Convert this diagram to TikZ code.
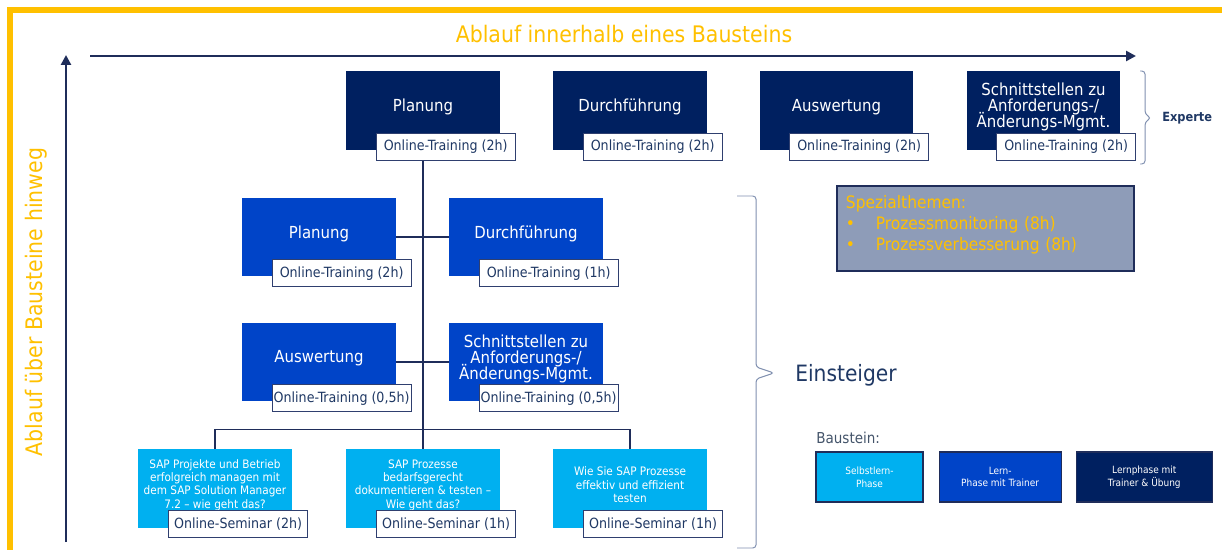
\documentclass[tikz,border=0pt]{standalone}
\usepackage{fontspec}
\setmainfont{DejaVu Sans Condensed}
\usetikzlibrary{arrows.meta,positioning}

\definecolor{navy}{HTML}{002060}
\definecolor{blau}{HTML}{0044C8}
\definecolor{hellblau}{HTML}{00B0F0}
\definecolor{gelb}{HTML}{FFC000}
\definecolor{linie}{HTML}{1F2D5A}
\definecolor{rahmen}{HTML}{2F3F6F}
\definecolor{schrift}{HTML}{1F3864}
\definecolor{grau}{HTML}{8E9CB8}
\definecolor{grautext}{HTML}{44546A}
\definecolor{klammerfarbe}{HTML}{7F8FAF}

% Text im Baustein etwas nach oben, Zeilen mit festem Abstand
\newcommand{\btxt}[1]{\raisebox{2.5pt}[\height][\depth]{\vbox{\let\\\cr
  \lineskiplimit=-\maxdimen\halign{\hfil##\hfil\cr#1\crcr}}}}

\tikzset{
  baustein/.style={rectangle, minimum width=3.825cm, minimum height=1.95cm,
    inner sep=0pt, text=white, font=\fontsize{11.8}{11.4}\selectfont},
  experte/.style={baustein, fill=navy},
  einst/.style={baustein, fill=blau},
  seminar/.style={baustein, fill=hellblau, minimum width=3.85cm,
    minimum height=1.975cm, font=\fontsize{8.3}{9.5}\selectfont},
  etikett/.style={rectangle, draw=rahmen, line width=0.9pt, fill=white,
    text=schrift, minimum width=3.475cm, minimum height=0.675cm,
    inner sep=0pt, font=\fontsize{10}{10}\selectfont, anchor=south east},
  verbinder/.style={draw=linie, line width=1.1pt},
  achse/.style={draw=linie, line width=2pt,
    -{Triangle[length=0.25cm,width=0.25cm]}},
  klammer/.style={draw=klammerfarbe, line width=0.7pt, rounded corners=0.08cm},
  legende/.style={rectangle, draw=linie, line width=0.8pt, minimum height=1.25cm,
    inner sep=0pt, text=white, align=center, font=\fontsize{7.1}{9}\selectfont},
  spezial/.style={rectangle, fill=grau, draw=linie, line width=1.1pt,
    minimum width=7.425cm, minimum height=2.125cm, text width=6.975cm,
    inner xsep=0.225cm, align=left, text=gelb, font=\fontsize{12.2}{15}\selectfont},
}

\begin{document}
\begin{tikzpicture}[x=0.025cm, y=-0.025cm]
  \useasboundingbox (0,0) rectangle (1222,550);
  % Rahmen
  \draw[gelb, line width=3.6pt] (1240,10) -- (10,10) -- (10,570);

  % Achsen
  \node[font=\fontsize{16.2}{18}\selectfont, text=gelb] (titel) at (624,34)
    {Ablauf innerhalb eines Bausteins};
  \node[font=\fontsize{16.2}{18}\selectfont, text=gelb, rotate=90] (vtitel) at (36,302)
    {Ablauf über Bausteine hinweg};
  \coordinate (x0) at (90,56);
  \coordinate (x1) at (1136,56);
  \coordinate (y0) at (66,542);
  \coordinate (y1) at (66,55);
  \draw[achse] (x0) -- (x1);
  \draw[achse] (y0) -- (y1);

  % Experte
  \node[experte] (p1) at (423,110.5) {\btxt{Planung}};
  \node[experte] (d1) at (630,110.5) {\btxt{Durchführung}};
  \node[experte] (a1) at (836.5,110.5) {\btxt{Auswertung}};
  \node[experte] (s1) at (1043.5,110.5)
    {\btxt{Schnittstellen zu\\Anforderungs-/\\Änderungs-Mgmt.}};
  \node[etikett] (p1l) at ([shift={(16,11)}]p1.south east) {Online-Training (2h)};
  \node[etikett] (d1l) at ([shift={(16,11)}]d1.south east) {Online-Training (2h)};
  \node[etikett] (a1l) at ([shift={(16,11)}]a1.south east) {Online-Training (2h)};
  \node[etikett] (s1l) at ([shift={(16,11)}]s1.south east) {Online-Training (2h)};

  % Einsteiger
  \node[einst] (p2) at (319,237) {\btxt{Planung}};
  \node[einst] (d2) at (526,237) {\btxt{Durchführung}};
  \node[einst] (a2) at (319,362) {\btxt{Auswertung}};
  \node[einst] (s2) at (526,362)
    {\btxt{Schnittstellen zu\\Anforderungs-/\\Änderungs-Mgmt.}};
  \node[etikett] (p2l) at ([shift={(16,11)}]p2.south east) {Online-Training (2h)};
  \node[etikett] (d2l) at ([shift={(16,11)}]d2.south east) {Online-Training (1h)};
  \node[etikett] (a2l) at ([shift={(16,11)}]a2.south east) {Online-Training (0,5h)};
  \node[etikett] (s2l) at ([shift={(16,11)}]s2.south east) {Online-Training (0,5h)};

  % Seminare
  \node[seminar] (b1) at (215,488.5)
    {\btxt{SAP Projekte und Betrieb\\erfolgreich managen mit\\dem SAP Solution Manager\\7.2 – wie geht das?}};
  \node[seminar] (b2) at (423,488.5)
    {\btxt{SAP Prozesse\\bedarfsgerecht\\dokumentieren \& testen –\\Wie geht das?}};
  \node[seminar] (b3) at (630,488.5)
    {\btxt{Wie Sie SAP Prozesse\\effektiv und effizient\\testen}};
  \node[etikett] (b1l) at ([shift={(16,10)}]b1.south east) {Online-Seminar (2h)};
  \node[etikett] (b2l) at ([shift={(16,10)}]b2.south east) {Online-Seminar (1h)};
  \node[etikett] (b3l) at ([shift={(16,10)}]b3.south east) {Online-Seminar (1h)};

  % Verbinder
  \draw[verbinder] (p1l.south -| p1.south) -- (b2.north);
  \draw[verbinder] (p2.east) -- (d2.west);
  \draw[verbinder] (a2.east) -- (s2.west);
  \draw[verbinder] (b1.north) -- ++(0,-19) -| (b3.north);

  % Klammern
  \draw[klammer] (1140,71) -- (1145,71) -- (1145,114) -- (1151,118)
    -- (1145,122) -- (1145,164) -- (1140,164);
  \node[inner sep=0pt, anchor=west, text=schrift,
    font=\fontsize{9}{11}\selectfont\bfseries] (experte) at (1162,118) {Experte};
  \draw[klammer] (737,196) -- (756,196) -- (756,367) -- (774,373)
    -- (756,379) -- (756,548) -- (737,548);
  \node[inner sep=0pt, anchor=west, text=schrift,
    font=\fontsize{16}{18}\selectfont] (einsteiger) at (795,375) {Einsteiger};

  % Spezialthemen
  \node[spezial] (spez) at (985.5,228.5)
    {\raisebox{2.1pt}[\height][\depth]{\begin{tabular}{@{}l@{}}
     Spezialthemen:\\
     \makebox[0.75cm][l]{\textbullet}Prozessmonitoring (8h)\\
     \makebox[0.75cm][l]{\textbullet}Prozessverbesserung (8h)
     \end{tabular}}};

  % Legende
  \node[inner sep=0pt, anchor=west, text=grautext,
    font=\fontsize{10.7}{12}\selectfont] (bst) at (816,438) {Baustein:};
  \node[legende, fill=hellblau, minimum width=2.675cm] (l1) at (869.5,477)
    {Selbstlern-\\Phase};
  \node[legende, fill=blau, minimum width=3.05cm, right=0.375cm of l1] (l2)
    {Lern-\\Phase mit Trainer};
  \node[legende, fill=navy, minimum width=3.4cm, right=0.35cm of l2] (l3)
    {Lernphase mit\\Trainer \& Übung};
\end{tikzpicture}
\end{document}
